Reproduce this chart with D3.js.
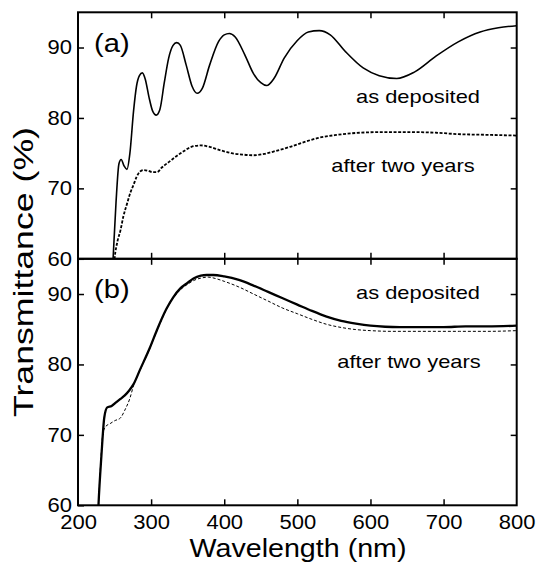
<!DOCTYPE html>
<html>
<head>
<meta charset="utf-8">
<script src="https://cdn.jsdelivr.net/npm/d3@7/dist/d3.min.js"></script>
<style>
  body { margin: 0; background: #fff; }
  text { font-family: "Liberation Sans", Arial, sans-serif; fill: #000; }
</style>
</head>
<body>
<script>
// tick values
var wavelengthTicks = [200, 300, 400, 500, 600, 700, 800];
var transTicks = [60, 70, 80, 90];

// panel (a): [wavelength nm, transmittance %]
var aDeposited = [
  [246, 56], [248, 60], [252, 68], [256, 73.5], [259, 74.1], [263, 73.2], [267, 72.7],
  [271, 75], [276, 81], [280, 84.5], [284, 86], [288, 86.4], [292, 85.5], [297, 83],
  [302, 81], [307, 80.4], [312, 81.2], [318, 85], [324, 88.5], [330, 90.3], [335, 90.7],
  [340, 90.3], [348, 87.5], [356, 84.5], [363, 83.5], [370, 84.2], [380, 87.5], [392, 90.8],
  [400, 91.8], [407, 92], [415, 91.5], [428, 89], [440, 86.3], [450, 85], [458, 84.6],
  [468, 85.6], [482, 88.5], [500, 91], [515, 92.2], [530, 92.4], [545, 91.8], [565, 89.5],
  [590, 87.1], [612, 86], [636, 85.6], [660, 86.5], [690, 88.8], [720, 90.8], [750, 92.2],
  [775, 92.8], [800, 93.1]
];
var aTwoYears = [
  [247, 56], [250, 60], [254, 62.5], [258, 64], [262, 66], [267, 67.8], [272, 69.5],
  [276, 70.5], [280, 71.6], [285, 72.4], [290, 72.6], [296, 72.5], [302, 72.3], [308, 72.3],
  [315, 73], [325, 73.8], [335, 74.6], [345, 75.3], [355, 75.9], [368, 76.1], [380, 75.9],
  [395, 75.4], [410, 75], [425, 74.8], [440, 74.7], [455, 74.9], [470, 75.3], [490, 75.9],
  [510, 76.6], [530, 77.2], [555, 77.6], [585, 77.9], [620, 78.0], [650, 78.0], [690, 77.9],
  [720, 77.7], [760, 77.6], [800, 77.5]
];

// panel (b)
var bDeposited = [
  [226, 55], [228, 60], [232, 67], [236, 72.5], [240, 73.9], [246, 74.1], [252, 74.6],
  [258, 75.1], [264, 75.6], [270, 76.3], [276, 77.2], [285, 79.3], [298, 82.3], [308, 84.9],
  [321, 87.9], [330, 89.5], [340, 90.8], [350, 91.6], [358, 92.2], [368, 92.6], [376, 92.7],
  [385, 92.7], [400, 92.5], [420, 92.0], [440, 91.2], [460, 90.3], [480, 89.4], [500, 88.5],
  [520, 87.6], [540, 86.8], [560, 86.2], [580, 85.8], [600, 85.5], [620, 85.35], [640, 85.3],
  [670, 85.3], [700, 85.3], [730, 85.4], [760, 85.4], [800, 85.5]
];
var bTwoYears = [
  [226, 55], [228, 60], [231, 66], [234, 70.2], [238, 71.2], [244, 71.6], [250, 72],
  [258, 72.4], [264, 73.5], [271, 75.2], [276, 77], [285, 79.2], [298, 82.2], [308, 84.8],
  [321, 87.8], [330, 89.4], [340, 90.6], [350, 91.4], [360, 92], [370, 92.3], [378, 92.4],
  [388, 92.2], [400, 91.8], [420, 91.0], [440, 90.0], [460, 89.0], [480, 88.0], [500, 87.2],
  [520, 86.4], [540, 85.7], [560, 85.25], [580, 84.95], [600, 84.8], [630, 84.7], [680, 84.7],
  [722, 84.7], [760, 84.7], [800, 84.8]
];

var margin = { top: 12.3, left: 78 };
var width = 438.7;
var panelH = 246.5;

var svg = d3.select("body").append("svg")
  .attr("width", 537)
  .attr("height", 563);

var x = d3.scaleLinear().domain([200, 800]).range([0, width]);

// stretch text horizontally, the scanned font is wider than Liberation Sans
function stretch(sel, k) {
  sel.each(function() {
    var w = this.getComputedTextLength();
    d3.select(this).attr("textLength", w * k).attr("lengthAdjust", "spacingAndGlyphs");
  });
}

var panels = [
  { label: "(a)", solid: aDeposited, dashed: aTwoYears, solidW: 1.6, dashW: 1.8, dash: "3,1.6",
    depY: 103, twoY: 172, depX: 418, twoX: 403 },
  { label: "(b)", solid: bDeposited, dashed: bTwoYears, solidW: 2.3, dashW: 1, dash: "3,2",
    depY: 299, twoY: 368, depX: 418, twoX: 409 }
];

panels.forEach(function(p, i) {
  var top = margin.top + i * panelH;
  var g = svg.append("g").attr("transform", "translate(" + margin.left + "," + top + ")");

  var y = d3.scaleLinear().domain([60, 95]).range([panelH, 0]);

  g.append("clipPath").attr("id", "clip" + i)
    .append("rect").attr("width", width).attr("height", panelH);

  var line = d3.line()
    .x(function(d) { return x(d[0]); })
    .y(function(d) { return y(d[1]); })
    .curve(d3.curveMonotoneX);

  g.append("path")
    .attr("d", line(p.dashed))
    .attr("clip-path", "url(#clip" + i + ")")
    .attr("fill", "none")
    .attr("stroke", "#000")
    .attr("stroke-width", p.dashW)
    .attr("stroke-dasharray", p.dash);

  g.append("path")
    .attr("d", line(p.solid))
    .attr("clip-path", "url(#clip" + i + ")")
    .attr("fill", "none")
    .attr("stroke", "#000")
    .attr("stroke-width", p.solidW);

  // inward ticks on all four sides
  var left = g.append("g")
    .call(d3.axisLeft(y).tickValues(transTicks).tickSize(-6).tickSizeOuter(0).tickPadding(6).tickFormat(d3.format("d")));
  left.select(".domain").remove();
  left.selectAll("line").attr("stroke-width", 1.5);
  left.selectAll("text").style("font-size", "20px").attr("font-family", null).call(stretch, 1.1);

  var right = g.append("g").attr("transform", "translate(" + width + ",0)")
    .call(d3.axisRight(y).tickValues(transTicks.slice(1)).tickSize(-6).tickFormat(""));
  right.select(".domain").remove();
  right.selectAll("line").attr("stroke-width", 1.5);

  var topAx = g.append("g")
    .call(d3.axisTop(x).tickValues(wavelengthTicks.slice(1, -1)).tickSize(-6).tickFormat(""));
  topAx.select(".domain").remove();
  topAx.selectAll("line").attr("stroke-width", 1.5);

  var bottom = g.append("g").attr("transform", "translate(0," + panelH + ")")
    .call(d3.axisBottom(x).tickValues(i == 1 ? wavelengthTicks : wavelengthTicks.slice(1, -1))
      .tickSize(-6).tickPadding(10).tickFormat(i == 1 ? d3.format("d") : ""));
  bottom.select(".domain").remove();
  bottom.selectAll("line").attr("stroke-width", 1.5);
  bottom.selectAll(".tick").filter(function(d) { return d == 200 || d == 800; }).select("line").remove();
  bottom.selectAll("text").style("font-size", "20px").attr("font-family", null).call(stretch, 1.1);

  // frame
  g.append("rect")
    .attr("width", width)
    .attr("height", panelH)
    .attr("fill", "none")
    .attr("stroke", "#000")
    .attr("stroke-width", 2);

  g.append("text")
    .attr("x", 16)
    .attr("y", i == 0 ? 40 : 39)
    .style("font-size", "26px")
    .text(p.label)
    .call(stretch, 1.12);

  svg.append("text")
    .attr("x", p.depX)
    .attr("y", p.depY)
    .attr("text-anchor", "middle")
    .style("font-size", "19px")
    .text("as deposited")
    .call(stretch, 1.15);

  svg.append("text")
    .attr("x", p.twoX)
    .attr("y", p.twoY)
    .attr("text-anchor", "middle")
    .style("font-size", "19px")
    .text("after two years")
    .call(stretch, 1.15);
});

// axis titles
svg.append("text")
  .attr("x", 298)
  .attr("y", 556.5)
  .attr("text-anchor", "middle")
  .style("font-size", "26px")
  .text("Wavelength (nm)")
  .attr("textLength", 217)
  .attr("lengthAdjust", "spacingAndGlyphs");

svg.append("text")
  .attr("transform", "translate(33,272) rotate(-90)")
  .attr("text-anchor", "middle")
  .style("font-size", "27px")
  .text("Transmittance (%)")
  .attr("textLength", 290)
  .attr("lengthAdjust", "spacingAndGlyphs");
</script>
</body>
</html>
